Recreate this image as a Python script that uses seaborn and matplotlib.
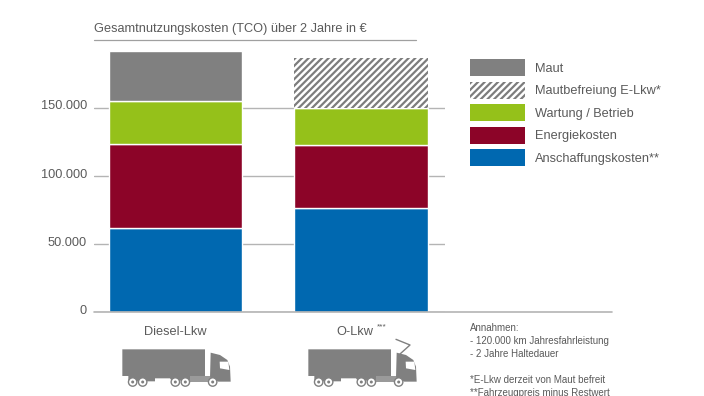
import matplotlib
matplotlib.use("Agg")
import matplotlib.pyplot as plt
import seaborn as sns
import numpy as np
from matplotlib.patches import Patch, Polygon, Circle, Rectangle
from matplotlib.lines import Line2D
from matplotlib.transforms import ScaledTranslation

categories = ["Diesel-Lkw", "O-Lkw"]
anschaffung = [61500, 76200]
energie = [61800, 46300]
wartung = [31600, 27300]
maut = [36800, 0]
mautbefreiung = [0, 37000]
yticks = [0, 50000, 100000, 150000]
ytick_labels = ["0", "50.000", "100.000", "150.000"]
series_names = ["Anschaffungskosten**", "Energiekosten", "Wartung / Betrieb",
                "Maut", "Mautbefreiung E-Lkw*"]
colors = ["#0068b0", "#8c0428", "#95c11a", "#808080", "#ffffff"]
title = "Gesamtnutzungskosten (TCO) über 2 Jahre in €"
notes = ["Annahmen:", "- 120.000 km Jahresfahrleistung", "- 2 Jahre Haltedauer", "",
         "*E-Lkw derzeit von Maut befreit", "**Fahrzeugpreis minus Restwert"]

TXT = "#5a5a5a"
LINE = "#b4b4b4"
W, H = 704, 396
sns.set_theme(style="white")
plt.rcParams["font.family"] = ["Liberation Sans", "DejaVu Sans"]
plt.rcParams["hatch.linewidth"] = 1.6
plt.rcParams["hatch.color"] = "#7d7d7d"

fig = plt.figure(figsize=(W / 100, H / 100), dpi=100, facecolor="white")
ax = fig.add_axes([94 / W, 1 - 312 / H, (445 - 94) / W, 272 / H])

bottom = np.zeros(2)
all_series = [anschaffung, energie, wartung, maut, mautbefreiung]
for vals, col, name in zip(all_series, colors, series_names):
    sns.barplot(x=categories, y=vals, bottom=bottom, color=col, width=0.72,
                saturation=1, ax=ax, legend=False, zorder=3)
    bottom = bottom + np.array(vals)
for p in ax.containers[-1]:
    p.set_hatch("/////")
    p.set_edgecolor("#7d7d7d")
    p.set_linewidth(0)
    p.set_facecolor("white")

ax.set_xlim(-0.4397, 1.452)
ax.set_ylim(0, 200000)
ax.set_yticks(yticks)
ax.set_yticklabels(ytick_labels)
ax.yaxis.grid(True, color=LINE, lw=1, zorder=0)
ax.set_axisbelow(True)
ax.tick_params(axis="y", length=0, pad=5, labelsize=9.2, labelcolor=TXT)
ax.tick_params(axis="x", length=0, pad=10, labelsize=9.2, labelcolor=TXT)
for lab in ax.get_yticklabels():
    lab.set_transform(lab.get_transform() + ScaledTranslation(0, 3 / 100, fig.dpi_scale_trans))
o_lab = ax.get_xticklabels()[1]
o_lab.set_transform(o_lab.get_transform() + ScaledTranslation(-6 / 100, 0, fig.dpi_scale_trans))
for s in ax.spines.values():
    s.set_visible(False)

# legend
handles = [Patch(facecolor=c, edgecolor="none") for c in colors]
handles[4] = Patch(facecolor="white", edgecolor="#7d7d7d", hatch="/////", lw=0)
order = [3, 4, 2, 1, 0]
fs = 9.2
px = fs * 100 / 72
leg = fig.legend([handles[i] for i in order], [series_names[i] for i in order],
                 loc="upper left", bbox_to_anchor=(470 / W, 1 - 59 / H), frameon=False,
                 borderpad=0, borderaxespad=0, fontsize=fs, handlelength=55 / px,
                 handleheight=1.67, labelspacing=5.5 / px, handletextpad=10 / px,
                 labelcolor=TXT)

# overlay in pixel coordinates: rules, texts, truck icons
ov = fig.add_axes([0, 0, 1, 1], zorder=5)
ov.set_xlim(0, W)
ov.set_ylim(H, 0)
ov.axis("off")
ov.add_line(Line2D([94, 612], [312, 312], color=LINE, lw=1.2))
ov.add_line(Line2D([94, 416], [39.5, 39.5], color="#a0a0a0", lw=0.9))
ov.text(94, 29, title, fontsize=9.15, color=TXT, va="center", ha="left")
ov.text(376.5, 327, "***", fontsize=6, color=TXT, va="center", ha="left")

for i, line in enumerate(notes):
    ov.text(470, 328 + i * 12.9, line, fontsize=7.05, color=TXT, va="center", ha="left")


def truck(dx, pantograph=False):
    g = "#808080"
    z = lambda x, y: (90 + x / 3 + dx, 310 + y / 3)
    ov.add_patch(Polygon([z(97, 118), z(345, 118), z(345, 198), z(318, 198), z(318, 212),
                          z(245, 212), z(240, 205), z(195, 205), z(195, 214), z(115, 214),
                          z(115, 198), z(97, 198)], fc=g, ec="none"))
    ov.add_patch(Polygon([z(362, 128), z(390, 135), z(412, 150), z(420, 170), z(422, 215),
                          z(385, 215), z(360, 203)], fc=g, ec="none"))
    ov.add_patch(Rectangle(z(300, 199), 20, 5.5, fc="#9a9a9a", ec="none"))
    ov.add_patch(Polygon([z(389, 155), z(415, 155), z(418, 180), z(390, 175)], fc="white", ec="none"))
    for wx in (128, 158, 256, 286, 368):
        cx, cy = z(wx, 216)
        ov.add_patch(Circle((cx, cy), 4.2, fc="white", ec=g, lw=1))
        ov.add_patch(Circle((cx, cy), 1.5, fc=g, ec="none"))
    if pantograph:
        pts = [z(360, 88), z(402, 105), z(372, 132)]
        ov.add_line(Line2D([p[0] for p in pts], [p[1] for p in pts], color=g, lw=1))


truck(0)
truck(186, pantograph=True)

fig.savefig("out.png", dpi=100, facecolor="white")
